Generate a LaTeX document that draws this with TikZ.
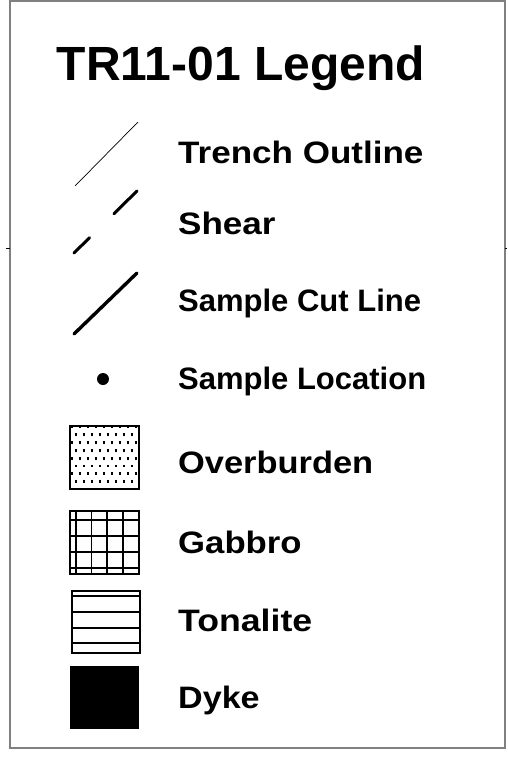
\documentclass[tikz,border=0pt]{standalone}
\usepackage{fontspec}
\setmainfont{Liberation Sans}
\usepackage{tikz}

\begin{document}
\begin{tikzpicture}[x=1pt,y=-1pt]
        \tikzset{legendtext/.style={anchor=base west,inner sep=0pt,font=\fontsize{31}{36}\selectfont\bfseries},
                 swatch/.style={draw=black,line width=1.2}}
        \useasboundingbox (0,0) rectangle (507,760);
        \draw[gray,line width=1.6] (10,1) rectangle (505,748);
        \draw[line width=1] (6,248) -- (10,248);
        \draw[line width=1] (505,248) -- (507,248);

        \node[anchor=base,font=\fontsize{48}{52}\selectfont\bfseries] (title) at (241,81) {TR11-01 Legend};

        \node[legendtext] (trench) at (178,163) {\scalebox{1.13}[1]{Trench Outline}};
        \node[legendtext] (shear) at (178,234) {\scalebox{1.13}[1]{Shear}};
        \node[legendtext] (cut) at (178,311) {Sample Cut Line};
        \node[legendtext] (loc) at (178,389) {Sample Location};
        \node[legendtext] (over) at (178,473) {\scalebox{1.11}[1]{Overburden}};
        \node[legendtext] (gab) at (178,553) {\scalebox{1.12}[1]{Gabbro}};
        \node[legendtext] (ton) at (178,631) {\scalebox{1.15}[1]{Tonalite}};
        \node[legendtext] (dyke) at (178,708) {\scalebox{1.1}[1]{Dyke}};

	% line symbols
        \coordinate (t1) at (75,186);  \coordinate (t2) at (138,122);
        \coordinate (s1) at (74,253);  \coordinate (s2) at (137,191);
        \coordinate (c1) at (74,334);  \coordinate (c2) at (137,273);
	\draw[line width=0.7] (t1) -- (t2);
	\draw[line width=3,line cap=round,dash pattern=on 22 off 34 on 40 off 10] (s1) -- (s2);
	\draw[line width=3.4,line cap=round] (c1) -- (c2);
	\fill (103,379) circle (6pt);

	% overburden
	\begin{scope}
	\clip (70,426) rectangle (139,489);
	\foreach \r in {0,...,8}
	  \foreach \c in {0,...,9}
	    \fill ({70.5+8*\c+4*mod(\r,2)},{425.5+7.8*\r}) rectangle ++(2.8,2.8);
	\end{scope}
	\draw[swatch] (70,426) rectangle (139,489);

	% gabbro
	\foreach \x in {76,91.5,107,123} \draw[line width=1.8] (\x,511) -- (\x,574);
	\foreach \y in {520,536,552,568} \draw[line width=1.8] (70,\y) -- (139,\y);
	\draw[swatch] (70,511) rectangle (139,574);

	% tonalite
	\foreach \y in {596,612,628,643} \draw[line width=1.6] (72,\y) -- (140,\y);
	\draw[swatch] (72,591) rectangle (140,653);

	% dyke
	\fill (70,666) rectangle (139,729);
\end{tikzpicture}
\end{document}
